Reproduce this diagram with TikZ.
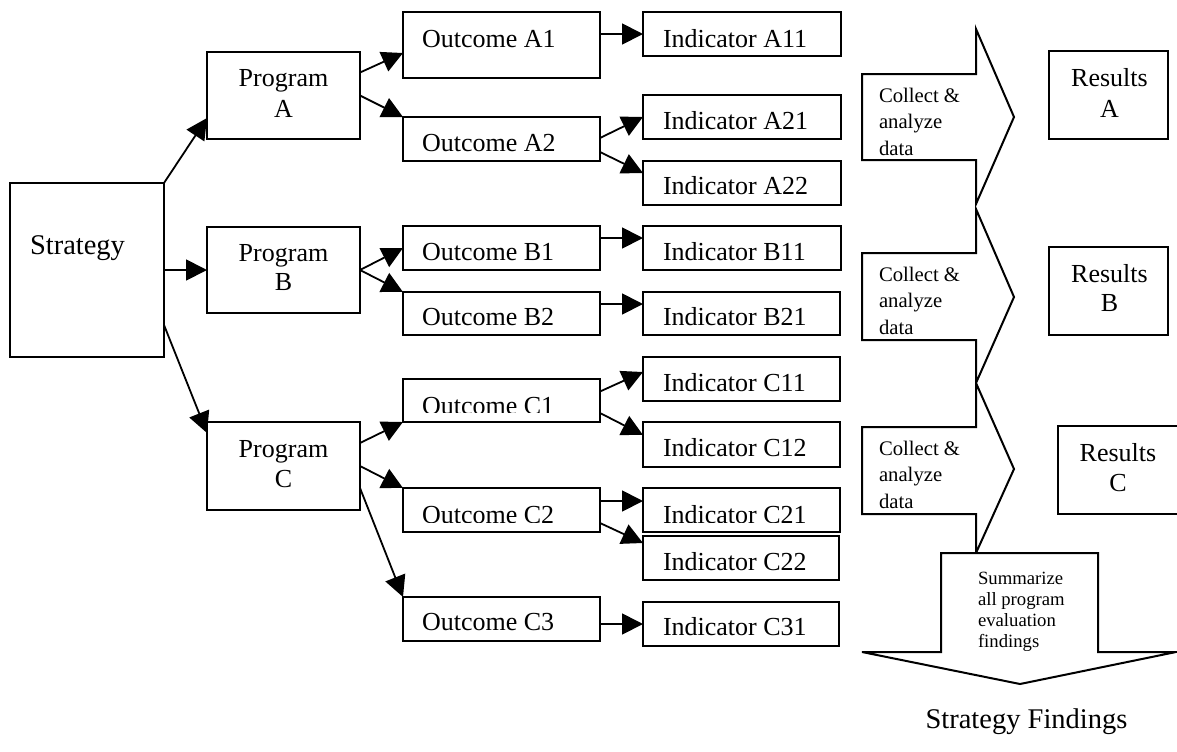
\documentclass[tikz,border=0pt]{standalone}
\usepackage{fontspec}
\setmainfont{Liberation Serif}
\usetikzlibrary{arrows.meta,calc}
\newcommand\mybox[5]{\node[box,minimum width={(#4-#2)*0.5pt},minimum height={(#5-#3)*0.5pt}] (#1) at ({(#2+#4)/2},{(#3+#5)/2}) {};}
\begin{document}
\begin{tikzpicture}[x=0.5pt,y=-0.5pt,
  box/.style={draw,line width=1pt,inner sep=0pt,outer sep=0pt},
  conn/.style={line width=0.9pt,-{Triangle[length=10.5pt,width=10.5pt]}},
  lbl/.style={inner sep=0pt,outer sep=0pt,font=\fontsize{13}{15}\selectfont},
  big/.style={inner sep=0pt,outer sep=0pt,font=\fontsize{14.25}{17}\selectfont},
  smalltxt/.style={inner sep=0pt,outer sep=0pt,font=\fontsize{10.35}{12}\selectfont},
  tinytxt/.style={inner sep=0pt,outer sep=0pt,font=\fontsize{9.35}{11}\selectfont},
  blk/.style={draw,line width=1pt,fill=white,line join=miter}]
\useasboundingbox (0,0) rectangle (1177,751);
\clip (0,0) rectangle (1177,751);

% boxes
\mybox{strat}{10}{183}{164}{357}
\mybox{progA}{207}{52}{360}{139}
\mybox{progB}{207}{227}{360}{313}
\mybox{progC}{207}{422}{360}{510}
\mybox{oA1}{403}{12}{600}{78}
\mybox{oA2}{403}{117}{600}{161}
\mybox{oB1}{403}{226}{600}{270}
\mybox{oB2}{403}{292}{600}{335}
\mybox{oC1}{403}{379}{600}{422}
\mybox{oC2}{403}{488}{600}{532}
\mybox{oC3}{403}{597}{600}{641}
\mybox{iA11}{643}{12}{841}{56}
\mybox{iA21}{643}{95}{841}{139}
\mybox{iA22}{643}{161}{841}{205}
\mybox{iB11}{643}{226}{841}{270}
\mybox{iB21}{643}{292}{840}{335}
\mybox{iC11}{643}{357}{840}{401}
\mybox{iC12}{643}{422}{840}{467}
\mybox{iC21}{643}{488}{840}{532}
\mybox{iC22}{643}{536}{839}{580}
\mybox{iC31}{643}{602}{839}{646}
\mybox{resA}{1049}{51}{1168}{139}
\mybox{resB}{1049}{247}{1168}{335}
\mybox{resC}{1058}{426}{1192}{514}

% labels
\node[big,anchor=base west] at (30,254) {Strategy};
\node[lbl,anchor=base] at (283.5,86) {Program};
\node[lbl,anchor=base] at (283.5,117) {A};
\node[lbl,anchor=base] at (283.5,261) {Program};
\node[lbl,anchor=base] at (283.5,290) {B};
\node[lbl,anchor=base] at (283.5,457) {Program};
\node[lbl,anchor=base] at (283.5,487) {C};

\node[lbl,anchor=base west] at (422,47.3) {Outcome A1};
\node[lbl,anchor=base west] at (422,151.7) {Outcome A2};
\node[lbl,anchor=base west] at (422,260) {Outcome B1};
\node[lbl,anchor=base west] at (422,325) {Outcome B2};
\begin{scope}
  \clip (403,379) rectangle (600,412.5);
  \node[lbl,anchor=base west] at (422,414) {Outcome C1};
\end{scope}
\begin{scope}
  \clip (403,488) rectangle (600,522);
  \node[lbl,anchor=base west] at (422,523.5) {Outcome C2};
\end{scope}
\node[lbl,anchor=base west] at (422,630.7) {Outcome C3};

\node[lbl,anchor=base west] at (663,47.3) {Indicator A11};
\node[lbl,anchor=base west] at (663,129.3) {Indicator A21};
\node[lbl,anchor=base west] at (663,194.3) {Indicator A22};
\node[lbl,anchor=base west] at (663,260) {Indicator B11};
\node[lbl,anchor=base west] at (663,325) {Indicator B21};
\node[lbl,anchor=base west] at (663,391.7) {Indicator C11};
\node[lbl,anchor=base west] at (663,456.7) {Indicator C12};
\begin{scope}
  \clip (643,488) rectangle (840,522);
  \node[lbl,anchor=base west] at (663,523.5) {Indicator C21};
\end{scope}
\node[lbl,anchor=base west] at (663,570) {Indicator C22};
\node[lbl,anchor=base west] at (663,635) {Indicator C31};

\node[lbl,anchor=base] at (1109.5,86) {Results};
\node[lbl,anchor=base] at (1109.5,117) {A};
\node[lbl,anchor=base] at (1109.5,282.7) {Results};
\node[lbl,anchor=base] at (1109.5,311.7) {B};
\node[lbl,anchor=base] at (1118,461.7) {Results};
\node[lbl,anchor=base] at (1118,491.7) {C};

% connectors
\draw[conn] (strat.north east) -- ($(progA.south west)+(0,-21)$);
\draw[conn] (strat.east) -- (progB.west);
\draw[conn] ($(strat.south east)+(0,-32)$) -- ($(progC.north west)+(0,11)$);
\draw[conn] ($(progA.east)+(0,-23)$) -- ($(oA1.west)+(0,8)$);
\draw[conn] (progA.east) -- (oA2.north west);
\draw[conn] (progB.east) -- (oB1.west);
\draw[conn] (progB.east) -- (oB2.north west);
\draw[conn] ($(progC.east)+(0,-23)$) -- (oC1.south west);
\draw[conn] (progC.east) -- (oC2.north west);
\draw[conn] ($(progC.east)+(0,22)$) -- (oC3.north west);
\draw[conn] (oA1.east |- iA11.west) -- (iA11.west);
\draw[conn] ($(oA2.east)+(0,-1)$) -- (iA21.west);
\draw[conn] ($(oA2.east)+(0,13)$) -- ($(iA22.north west)+(0,12)$);
\draw[conn] ($(oB1.east)+(0,-10)$) -- ($(iB11.west)+(0,-10)$);
\draw[conn] ($(oB2.east)+(0,-9.5)$) -- ($(iB21.west)+(0,-9.5)$);
\draw[conn] ($(oC1.east)+(0,-9)$) -- ($(iC11.west)+(0,-7)$);
\draw[conn] ($(oC1.east)+(0,12.5)$) -- ($(iC12.north west)+(0,13)$);
\draw[conn] ($(oC2.east)+(0,-9)$) -- ($(iC21.west)+(0,-9)$);
\draw[conn] ($(oC2.east)+(0,13)$) -- ($(iC22.north west)+(0,7)$);
\draw[conn] (oC3.east |- iC31.west) -- (iC31.west);

% block arrows
\draw[blk] (862,74) -- (976,74) -- (976,29) -- (1014,117) -- (976,204) -- (976,160) -- (862,160) -- cycle;
\draw[blk] (862,253) -- (976,253) -- (976,209) -- (1014,297) -- (976,383) -- (976,340) -- (862,340) -- cycle;
\draw[blk] (862,427) -- (976,427) -- (976,383) -- (1014,469) -- (976,553) -- (976,514) -- (862,514) -- cycle;
\draw[blk] (941,553) -- (1098,553) -- (1098,652) -- (1176,652) -- (1020,684) -- (862,652) -- (941,652) -- cycle;

\node[smalltxt,anchor=base west] at (879,102) {Collect \&};
\node[smalltxt,anchor=base west] at (879,128.5) {analyze};
\node[smalltxt,anchor=base west] at (879,155) {data};
\node[smalltxt,anchor=base west] at (879,281) {Collect \&};
\node[smalltxt,anchor=base west] at (879,307.5) {analyze};
\node[smalltxt,anchor=base west] at (879,334) {data};
\node[smalltxt,anchor=base west] at (879,455) {Collect \&};
\node[smalltxt,anchor=base west] at (879,481.5) {analyze};
\node[smalltxt,anchor=base west] at (879,508) {data};

\node[tinytxt,anchor=base west] at (978,584) {Summarize};
\node[tinytxt,anchor=base west] at (978,605) {all program};
\node[tinytxt,anchor=base west] at (978,626) {evaluation};
\begin{scope}
  \clip (941,553) rectangle (1098,650);
  \node[tinytxt,anchor=base west] at (978,647.5) {findings};
\end{scope}

\node[big,anchor=base] at (1026.5,728) {Strategy Findings};
\end{tikzpicture}
\end{document}
